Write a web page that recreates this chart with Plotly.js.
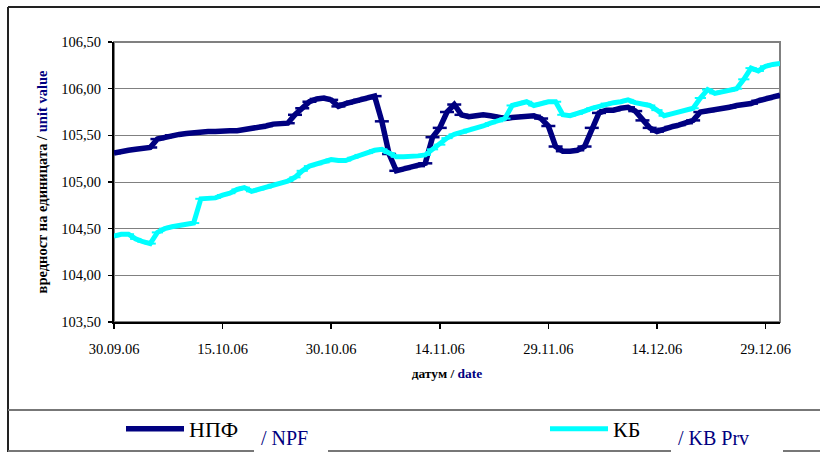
<!DOCTYPE html>
<html>
<head>
<meta charset="utf-8">
<script src="https://cdn.plot.ly/plotly-3.0.1.min.js"></script>
<style>html,body{margin:0;padding:0;background:#fff;}#chart{width:820px;height:452px;}</style>
</head>
<body>
<div id="chart"></div>
<script>
// ---- data ----
const dates = [
'2006-09-30',
'2006-10-01','2006-10-02','2006-10-03','2006-10-04','2006-10-05','2006-10-06','2006-10-07','2006-10-08','2006-10-09','2006-10-10',
'2006-10-11','2006-10-12','2006-10-13','2006-10-14','2006-10-15','2006-10-16','2006-10-17','2006-10-18','2006-10-19','2006-10-20',
'2006-10-21','2006-10-22','2006-10-23','2006-10-24','2006-10-25','2006-10-26','2006-10-27','2006-10-28','2006-10-29','2006-10-30','2006-10-31',
'2006-11-01','2006-11-02','2006-11-03','2006-11-04','2006-11-05','2006-11-06','2006-11-07','2006-11-08','2006-11-09','2006-11-10',
'2006-11-11','2006-11-12','2006-11-13','2006-11-14','2006-11-15','2006-11-16','2006-11-17','2006-11-18','2006-11-19','2006-11-20',
'2006-11-21','2006-11-22','2006-11-23','2006-11-24','2006-11-25','2006-11-26','2006-11-27','2006-11-28','2006-11-29','2006-11-30',
'2006-12-01','2006-12-02','2006-12-03','2006-12-04','2006-12-05','2006-12-06','2006-12-07','2006-12-08','2006-12-09','2006-12-10',
'2006-12-11','2006-12-12','2006-12-13','2006-12-14','2006-12-15','2006-12-16','2006-12-17','2006-12-18','2006-12-19','2006-12-20',
'2006-12-21','2006-12-22','2006-12-23','2006-12-24','2006-12-25','2006-12-26','2006-12-27','2006-12-28','2006-12-29','2006-12-30','2006-12-31'
];
const npfValues = [
105.31,105.33,105.34,105.35,105.36,105.37,105.46,105.48,105.50,105.51,
105.52,105.53,105.54,105.54,105.54,105.55,105.55,105.55,105.56,105.57,
105.58,105.60,105.62,105.63,105.63,105.72,105.79,105.86,105.89,105.90,
105.88,105.81,105.84,105.86,105.88,105.90,105.92,105.65,105.30,105.12,
105.14,105.16,105.17,105.20,105.48,105.58,105.75,105.83,105.72,105.70,
105.71,105.72,105.71,105.70,105.68,105.69,105.70,105.71,105.71,105.68,
105.60,105.38,105.33,105.33,105.34,105.38,105.58,105.74,105.77,105.77,
105.79,105.80,105.76,105.66,105.58,105.54,105.57,105.59,105.61,105.63,
105.66,105.75,105.76,105.78,105.79,105.80,105.82,105.83,105.84,105.87,
105.89,105.91,105.93
];
const kbValues = [
104.42,104.44,104.44,104.39,104.36,104.34,104.46,104.50,104.52,104.53,
104.55,104.56,104.82,104.82,104.83,104.86,104.88,104.92,104.94,104.90,
104.92,104.94,104.97,104.99,105.01,105.05,105.12,105.17,105.19,105.21,
105.24,105.23,105.23,105.26,105.29,105.31,105.34,105.35,105.31,105.27,
105.27,105.27,105.28,105.29,105.35,105.40,105.47,105.51,105.53,105.56,
105.58,105.60,105.63,105.65,105.68,105.82,105.84,105.86,105.82,105.84,
105.86,105.86,105.72,105.71,105.73,105.76,105.79,105.81,105.84,105.85,
105.86,105.88,105.85,105.84,105.82,105.77,105.71,105.73,105.75,105.77,
105.79,105.90,105.99,105.95,105.97,105.98,106.00,106.10,106.22,106.19,
106.24,106.26,106.27
];
const xTickVals = ['2006-09-30','2006-10-15','2006-10-30','2006-11-14','2006-11-29','2006-12-14','2006-12-29'];
const seriesNames = ['НПФ', 'КБ'];
const seriesNamesEn = ['/ NPF', '/ KB Prv'];

// ---- layout helpers (pixel -> paper / container) ----
const W = 820, H = 452, ML = 114, MR = 40, MT = 42, MB = 130;
const PW = W - ML - MR, PH = H - MT - MB;
const px = v => (v - ML) / PW;
const py = v => (H - MB - v) / PH;
const serif = 'Liberation Serif, Times New Roman, serif';
const NAVY = '#000080', CYAN = '#00FFFF';

const traces = [
  {x: dates, y: npfValues, name: seriesNames[0], type: 'scatter', mode: 'lines+markers', legend: 'legend',
   line: {color: NAVY, width: 5.5},
   marker: {symbol: 'line-ew', size: 10, color: NAVY, line: {color: NAVY, width: 2.5}}},
  {x: dates, y: kbValues, name: seriesNames[1], type: 'scatter', mode: 'lines+markers', legend: 'legend2',
   line: {color: CYAN, width: 5},
   marker: {symbol: 'line-ew', size: 8, color: CYAN, line: {color: CYAN, width: 2}}}
];

function hline(y, x0, x1, color, w) {
  return {type: 'line', xref: 'paper', yref: 'paper', x0: px(x0), x1: px(x1), y0: py(y), y1: py(y), line: {color: color, width: w}};
}
function vline(x, y0, y1, color, w) {
  return {type: 'line', xref: 'paper', yref: 'paper', x0: px(x), x1: px(x), y0: py(y0), y1: py(y1), line: {color: color, width: w}};
}
function legendAt(xPix) {
  return {
    orientation: 'h', xref: 'container', yref: 'container',
    x: xPix / W, xanchor: 'left', y: 1 - 429 / H, yanchor: 'middle',
    font: {family: serif, size: 22, color: '#000'},
    bgcolor: 'rgba(0,0,0,0)', borderwidth: 0, itemwidth: 58
  };
}

const layout = {
  width: W, height: H,
  margin: {l: ML, r: MR, t: MT, b: MB, pad: 0, autoexpand: false},
  paper_bgcolor: '#fff', plot_bgcolor: '#fff',
  separators: ',.',
  showlegend: true,
  font: {family: serif, color: '#000'},
  xaxis: {
    type: 'date', range: ['2006-09-30', '2006-12-31'],
    tickvals: xTickVals, tickformat: '%d.%m.%y',
    ticks: 'outside', ticklen: 5, tickwidth: 1.5, tickcolor: '#000',
    showline: true, linecolor: '#000', linewidth: 2,
    showgrid: false, zeroline: false,
    tickfont: {family: serif, size: 14.5, color: '#000'},
    ticklabelstandoff: 8,
    title: {text: '<b>датум / <span style="color:#000080">date</span></b>', font: {family: serif, size: 13.5, color: '#000'}, standoff: 12}
  },
  yaxis: {
    range: [103.5, 106.5], tick0: 103.5, dtick: 0.5, tickformat: '.2f',
    ticks: 'outside', ticklen: 4, tickwidth: 1.5, tickcolor: '#000',
    showline: true, linecolor: '#000', linewidth: 2,
    showgrid: true, gridcolor: '#808080', gridwidth: 1, zeroline: false,
    tickfont: {family: serif, size: 14.5, color: '#000'},
    ticklabelstandoff: 4,
    title: {text: '<b>вредност на единицата / <span style="color:#000080">unit value</span></b>', font: {family: serif, size: 14.5, color: '#000'}, standoff: 10}
  },
  legend: legendAt(121),
  legend2: legendAt(545),
  annotations: [
    {xref: 'paper', yref: 'paper', x: px(259), y: py(438), xanchor: 'left', yanchor: 'middle', showarrow: false,
     text: seriesNamesEn[0], font: {family: serif, size: 20, color: NAVY}},
    {xref: 'paper', yref: 'paper', x: px(676), y: py(438), xanchor: 'left', yanchor: 'middle', showarrow: false,
     text: seriesNamesEn[1], font: {family: serif, size: 20, color: NAVY}}
  ],
  shapes: [
    // plot-area border (grey)
    {type: 'rect', xref: 'paper', yref: 'paper', x0: 0, x1: 1, y0: 0, y1: 1, line: {color: '#808080', width: 2}, layer: 'below'},
    // outer chart frame
    vline(8, 7, 452, '#222', 2),
    hline(7, 8, 820, '#222', 2),
    hline(410, 8, 820, '#777', 2),
    hline(451, 8, 254, '#777', 2),
    hline(451, 328, 671, '#777', 2),
    hline(451, 783, 820, '#777', 2)
  ]
};

Plotly.newPlot('chart', traces, layout, {displayModeBar: false, staticPlot: true});
</script>
</body>
</html>
